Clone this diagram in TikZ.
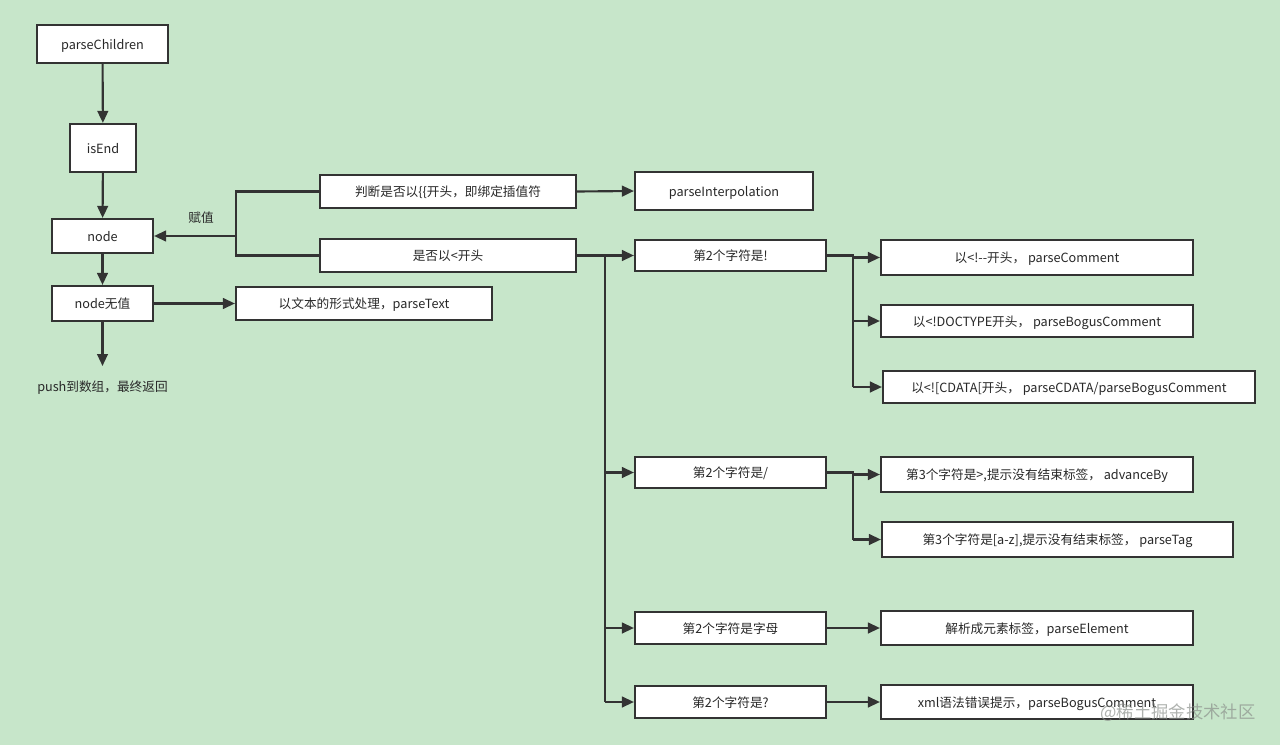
\documentclass[tikz,border=0pt]{standalone}
\usepackage{fontspec}
\setmainfont{Noto Sans CJK SC}
\usetikzlibrary{arrows.meta}
\definecolor{bg}{RGB}{199,230,202}
\definecolor{ln}{RGB}{51,51,51}
\definecolor{tx}{RGB}{40,40,40}
\definecolor{wmc}{RGB}{140,145,140}
\def\u{0.75pt}
\tikzset{
  box/.style={draw=ln, line width=1.6pt, fill=white, inner sep=0pt, text=tx,
    font=\fontsize{9.5}{11}\selectfont, text height=0.9em, text depth=0.12em},
  lbl/.style={text=tx, font=\fontsize{9.5}{11}\selectfont},
  conn/.style={draw=ln, line width=1.6pt},
  arr/.style={conn, -{Triangle[length=9pt,width=8pt]}},
}
\begin{document}
\begin{tikzpicture}[x=0.75pt,y=-0.75pt]
\fill[bg] (0,0) rectangle (1280,745);
\useasboundingbox (0,0) rectangle (1280,745);
% left column
\node[box, minimum width=131*\u, minimum height=38*\u] (pc) at (102.5,44) {parseChildren};
\node[box, minimum width=66*\u, minimum height=48*\u] (ie) at (103,148) {isEnd};
\node[box, minimum width=101*\u, minimum height=34*\u] (nd) at (102.5,236) {node};
\node[box, minimum width=101*\u, minimum height=35*\u] (nn) at (102.5,303.5) {node无值};
\node[lbl] (push) at (102.5,388) {push到数组，最终返回};
\coordinate (pushTop) at (102.5,366);
% middle
\node[box, minimum width=256*\u, minimum height=33*\u] (jd) at (448,191.5) {判断是否以\{\{开头，即绑定插值符};
\node[box, minimum width=178*\u, minimum height=38*\u] (pi) at (724,191) {parseInterpolation};
\node[box, minimum width=256*\u, minimum height=33*\u] (lt) at (448,255.5) {是否以<开头};
\node[box, minimum width=256*\u, minimum height=33*\u] (pt) at (364,303.5) {以文本的形式处理，parseText};
% second char
\node[box, minimum width=191*\u, minimum height=31*\u] (c1) at (730.5,255.5) {第2个字符是!};
\node[box, minimum width=191*\u, minimum height=31*\u] (c2) at (730.5,472.5) {第2个字符是/};
\node[box, minimum width=191*\u, minimum height=32*\u] (c3) at (730.5,628) {第2个字符是字母};
\node[box, minimum width=191*\u, minimum height=32*\u] (c4) at (730.5,702) {第2个字符是?};
% right
\node[box, minimum width=312*\u, minimum height=35*\u] (r1) at (1037,257.5) {以<!-{}-开头， parseComment};
\node[box, minimum width=312*\u, minimum height=32*\u] (r2) at (1037,321) {以<!DOCTYPE开头， parseBogusComment};
\node[box, minimum width=372*\u, minimum height=32*\u] (r3) at (1069,387) {以<![CDATA[开头， parseCDATA/parseBogusComment};
\node[box, minimum width=312*\u, minimum height=35*\u] (r4) at (1037,474.5) {第3个字符是>,提示没有结束标签， advanceBy};
\node[box, minimum width=351*\u, minimum height=35*\u] (r5) at (1057.5,539.5) {第3个字符是[a-z],提示没有结束标签， parseTag};
\node[box, minimum width=312*\u, minimum height=34*\u] (r6) at (1037,628) {解析成元素标签，parseElement};
\node[box, minimum width=312*\u, minimum height=34*\u] (r7) at (1037,702) {xml语法错误提示，parseBogusComment};
% connectors left
\draw[arr] (pc) -- (ie);
\draw[arr] (ie) -- (nd);
\draw[arr] (nd) -- (nn);
\draw[arr] (nn.south) -- (pushTop);
\draw[arr] (nn.east) -- (pt.west);
% bracket to node
\coordinate (bx) at (236,236);
\draw[conn] (jd.west) -| (bx) |- (lt.west);
\draw[arr] (bx) -- (nd.east);
\node[lbl] (fz) at (201,218) {赋值};
\draw[arr] (jd.east) -- (pi.west);
% trunk from lt
\coordinate (t1) at (605,255.5);
\coordinate (t2) at (605,702);
\draw[conn] (lt.east) -- (t1) -- (t2);
\draw[arr] (t1) -- (c1.west);
\draw[arr] (605,472.5) -- (c2.west);
\draw[arr] (605,628) -- (c3.west);
\draw[arr] (t2) -- (c4.west);
% trunk from c1
\coordinate (u1) at (853,255.5);
\draw[conn] (c1.east) -- (u1) -- (853,387);
\draw[arr] (853,257.5) -- (r1.west);
\draw[arr] (853,321) -- (r2.west);
\draw[arr] (853,387) -- (r3.west);
% trunk from c2
\coordinate (v1) at (853,472.5);
\draw[conn] (c2.east) -- (v1) -- (853,539.5);
\draw[arr] (853,474.5) -- (r4.west);
\draw[arr] (853,539.5) -- (r5.west);
\draw[arr] (c3) -- (r6);
\draw[arr] (c4) -- (r7);
% watermark
\node[text=wmc, opacity=0.7, font=\fontsize{13}{15}\selectfont] (wm) at (1178,713) {@稀土掘金技术社区};
\end{tikzpicture}
\end{document}
